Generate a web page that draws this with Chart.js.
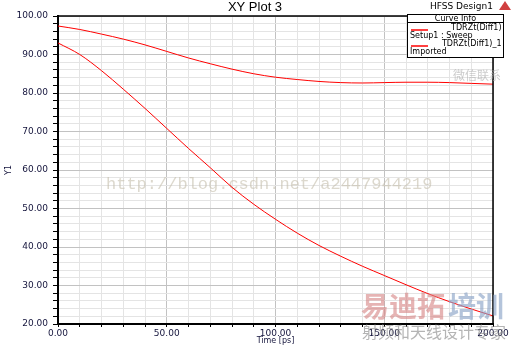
<!DOCTYPE html>
<html>
<head>
<meta charset="utf-8">
<script src="https://cdn.jsdelivr.net/npm/chart.js@4/dist/chart.umd.min.js"></script>
<style>
  html, body { margin: 0; padding: 0; background: #fff; }
  canvas { display: block; }
</style>
</head>
<body>
<canvas id="xy-plot" width="514" height="346"></canvas>
<script>
// Time axis (ps)
const times = [0, 10, 20, 30, 40, 50, 60, 70, 80, 90, 100, 110, 120, 130, 140, 150, 160, 170, 180, 190, 200];
// TDRZt(Diff1) - Setup1 : Sweep
const sweepValues = [97.4, 96.5, 95.3, 94.0, 92.5, 90.8, 89.1, 87.6, 86.2, 85.0, 84.1, 83.5, 83.0, 82.7, 82.6, 82.7, 82.8, 82.8, 82.7, 82.5, 82.3];
// TDRZt(Diff1)_1 - Imported
const importedValues = [93.0, 90.0, 85.8, 81.0, 76.0, 70.8, 65.6, 60.6, 55.5, 51.1, 47.2, 43.6, 40.4, 37.6, 35.0, 32.6, 30.2, 27.9, 25.8, 23.9, 22.1];
const curveNames = ['TDRZt(Diff1)', 'TDRZt(Diff1)_1'];
const curveSources = ['Setup1 : Sweep', 'Imported'];
const xTickLabels = [0, 50, 100, 150, 200];
const yTickLabels = [20, 30, 40, 50, 60, 70, 80, 90, 100];

const labelColor = '#14143c';
const fontFamily = '"DejaVu Sans", sans-serif';

function toPoints(values) {
    return values.map((v, i) => ({ x: times[i], y: v }));
}

// Frame, title, legend box and watermarks drawn by hand
const plotDecor = {
    id: 'plotDecor',
    beforeDatasetsDraw(chart) {
        const ctx = chart.ctx;
        ctx.save();
        // watermark url
        ctx.font = '17px "Liberation Mono", monospace';
        ctx.fillStyle = 'rgba(196, 190, 172, 0.6)';
        ctx.textBaseline = 'middle';
        ctx.textAlign = 'left';
        ctx.fillText('http://blog.csdn.net/a2447944219', 106, 184);
        ctx.restore();
    },
    afterDraw(chart) {
        const ctx = chart.ctx;
        const a = chart.chartArea;
        ctx.save();
        // top and right frame
        ctx.strokeStyle = '#000';
        ctx.lineWidth = 1.5;
        ctx.beginPath();
        ctx.moveTo(a.left, a.top);
        ctx.lineTo(a.right, a.top);
        ctx.lineTo(a.right, a.bottom);
        ctx.stroke();

        // title
        ctx.fillStyle = '#000';
        ctx.textBaseline = 'middle';
        ctx.textAlign = 'center';
        ctx.font = '13px "Liberation Sans", Arial, sans-serif';
        ctx.fillText('XY Plot 3', 255, 7);

        ctx.font = '9px "DejaVu Sans", sans-serif';
        ctx.textAlign = 'left';
        ctx.fillText('HFSS Design1', 430, 7);
        // small logo
        ctx.fillStyle = '#d04040';
        ctx.beginPath();
        ctx.moveTo(505, 1);
        ctx.lineTo(511, 10);
        ctx.lineTo(499, 10);
        ctx.closePath();
        ctx.fill();

        // wechat watermark
        ctx.font = '12px "Noto Sans CJK SC", sans-serif';
        ctx.fillStyle = 'rgba(170, 170, 170, 0.6)';
        ctx.fillText('微信联系', 453, 75);

        // legend box
        const bx = 407.5, by = 14.5, bw = 96, bh = 43;
        ctx.fillStyle = '#fff';
        ctx.fillRect(bx, by, bw, bh);
        ctx.strokeStyle = '#000';
        ctx.lineWidth = 1;
        ctx.strokeRect(bx, by, bw, bh);
        ctx.beginPath();
        ctx.moveTo(bx, 22.5);
        ctx.lineTo(bx + bw, 22.5);
        ctx.stroke();
        ctx.fillStyle = '#000';
        ctx.font = '8px "DejaVu Sans", sans-serif';
        ctx.textAlign = 'center';
        ctx.fillText('Curve Info', bx + bw / 2, 18.5);
        chart.data.datasets.forEach((ds, i) => {
            const y = 30 + i * 16;
            ctx.strokeStyle = '#ff0000';
            ctx.lineWidth = 1.5;
            ctx.beginPath();
            ctx.moveTo(411, y);
            ctx.lineTo(428, y);
            ctx.stroke();
            ctx.fillStyle = '#000';
            ctx.textAlign = 'right';
            ctx.fillText(curveNames[i], bx + bw - 2, y - 2);
            ctx.textAlign = 'left';
            ctx.fillText(curveSources[i], 410, y + 6);
        });

        // bottom right watermarks
        ctx.font = 'bold 28px "Noto Sans CJK SC", sans-serif';
        ctx.textAlign = 'left';
        ctx.fillStyle = 'rgba(214, 130, 130, 0.6)';
        ctx.fillText('易迪拓', 361, 306);
        ctx.fillStyle = 'rgba(140, 165, 200, 0.65)';
        ctx.fillText('培训', 448, 306);
        ctx.font = '16px "Noto Sans CJK SC", sans-serif';
        ctx.fillStyle = 'rgba(130, 130, 130, 0.6)';
        ctx.fillText('射频和天线设计专家', 362, 332);
        ctx.restore();
    }
};

document.addEventListener('DOMContentLoaded', function () {
    const canvas = document.getElementById('xy-plot');
    new Chart(canvas, {
        type: 'line',
        data: {
            datasets: [{
                label: curveNames[0],
                data: toPoints(sweepValues),
                borderColor: '#ff0000',
                borderWidth: 1,
                pointRadius: 0,
                cubicInterpolationMode: 'monotone'
            }, {
                label: curveNames[1],
                data: toPoints(importedValues),
                borderColor: '#ff0000',
                borderWidth: 1,
                pointRadius: 0,
                cubicInterpolationMode: 'monotone'
            }]
        },
        options: {
            responsive: false,
            animation: false,
            layout: { padding: { top: 16, right: 21, left: 0, bottom: 0 } },
            plugins: {
                legend: { display: false },
                tooltip: { enabled: false }
            },
            scales: {
                x: {
                    type: 'linear',
                    min: 0,
                    max: 200,
                    afterFit: scale => { scale.height = 22; },
                    ticks: {
                        stepSize: 10,
                        autoSkip: false,
                        maxRotation: 0,
                        padding: 1,
                        color: labelColor,
                        font: { family: fontFamily, size: 9 },
                        callback: v => xTickLabels.includes(v) ? v.toFixed(2) : ''
                    },
                    grid: {
                        color: c => (c.tick && c.tick.value % 50 === 0) ? '#c2c2c2' : '#e4e4e4',
                        tickColor: '#000',
                        tickLength: 3
                    },
                    border: { color: '#000', width: 2 },
                    title: {
                        display: true,
                        text: 'Time [ps]',
                        color: labelColor,
                        font: { family: fontFamily, size: 8 },
                        padding: 0
                    }
                },
                y: {
                    min: 20,
                    max: 100,
                    afterFit: scale => { scale.width = 58; },
                    ticks: {
                        stepSize: 2,
                        autoSkip: false,
                        padding: 5,
                        color: labelColor,
                        font: { family: fontFamily, size: 9 },
                        callback: v => yTickLabels.includes(v) ? v.toFixed(2) : ''
                    },
                    grid: {
                        color: c => (c.tick && c.tick.value % 10 === 0) ? '#c2c2c2' : '#e4e4e4',
                        tickColor: '#000',
                        tickLength: 5
                    },
                    border: { color: '#000', width: 2 },
                    title: {
                        display: true,
                        text: 'Y1',
                        color: labelColor,
                        font: { family: fontFamily, size: 8 },
                        padding: { top: 4, bottom: 0 }
                    }
                }
            }
        },
        plugins: [plotDecor]
    });
});
</script>
</body>
</html>
